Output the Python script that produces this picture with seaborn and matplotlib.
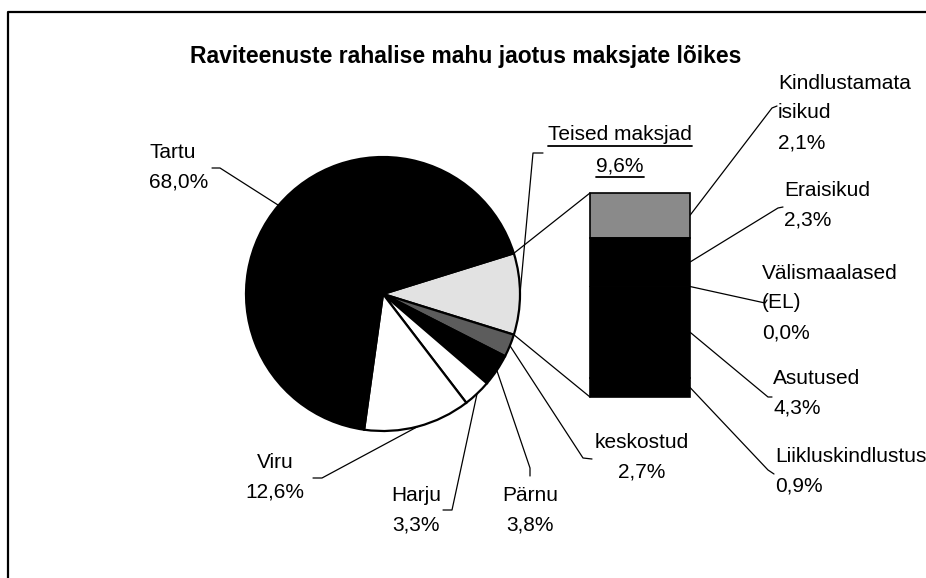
import numpy as np
import matplotlib.pyplot as plt
import seaborn as sns

# --- Teema ja font ---
sns.set_theme(style="white")
plt.rcParams['font.family'] = ['Liberation Sans', 'DejaVu Sans']
plt.rcParams['text.color'] = 'black'

# --- Andmed ---
TITLE = 'Raviteenuste rahalise mahu jaotus maksjate lõikes'
pie_labels = ['Teised maksjad', 'keskostud', 'Pärnu', 'Harju', 'Viru', 'Tartu']
pie_values = [9.6, 2.7, 3.8, 3.3, 12.6, 68.0]
pie_colors = ['#e2e2e2', '#5c5c5c', 'black', 'white', 'white', 'black']

bar_labels = ['Kindlustamata\nisikud', 'Eraisikud', 'Välismaalased\n(EL)', 'Asutused', 'Liikluskindlustus']
bar_values = [2.1, 2.3, 0.0, 4.3, 0.9]
bar_colors = ['#8a8a8a', 'black', 'black', 'black', 'black']

# --- Paigutus (pikslites, y alla) ---
W, H = 926, 578
PIE_CX, PIE_CY, PIE_R = 383, 294, 137
BAR_X0, BAR_X1, BAR_Y0, BAR_Y1 = 590, 690, 193, 397
FS = 15
LS = 1.72

pie_text_pos = [(620, 150, 'center'), (642, 457, 'center'), (530, 510, 'center'),
                (416, 510, 'center'), (275, 477, 'center'), (149, 167, 'left')]
pie_elbows = [[(533, 153), (543, 153)], [(583, 458), (592, 459)], [(530, 468), (530, 476)],
              [(452, 510), (443, 510)], [(322, 478), (313, 478)], [(220, 168), (212, 168)]]
bar_text_pos = [(778, 113), (784, 205), (762, 303), (773, 393), (775, 471)]
bar_elbows = [[(772, 108), (777, 106)], [(778, 208), (783, 207)], [(765, 303), (767, 300)],
              [(768, 397), (772, 397)], [(768, 470), (774, 474)]]


def fmt(label, value):
    return f"{label}\n{value:.1f}%".replace('.', ',')


fig = plt.figure(figsize=(W / 100, H / 100), dpi=100)
ax = fig.add_axes([0, 0, 1, 1])
ax.set_xlim(0, W)
ax.set_ylim(H, 0)
ax.axis('off')

ax_pie = fig.add_axes([(PIE_CX - PIE_R) / W, (H - PIE_CY - PIE_R) / H, 2 * PIE_R / W, 2 * PIE_R / H])
ax_pie.patch.set_alpha(0)
ax_bar = fig.add_axes([BAR_X0 / W, (H - BAR_Y1) / H, (BAR_X1 - BAR_X0) / W, (BAR_Y1 - BAR_Y0) / H])
ax_bar.patch.set_alpha(0)

# raam
ax.plot([8, 8, W], [H, 12, 12], color='black', lw=1.6)

# --- Pirukas ---
total = sum(pie_values)
start = pie_values[0] / total * 360 / 2
ax_pie.pie(pie_values, colors=pie_colors, startangle=start, counterclock=False, radius=1,
           wedgeprops=dict(edgecolor='black', linewidth=1.6, clip_on=False))
ax_pie.set_xlim(-1, 1)
ax_pie.set_ylim(-1, 1)

cum = np.concatenate([[0], np.cumsum(pie_values)])
mid_angles = np.radians(start - 360 * (cum[:-1] + np.array(pie_values) / 2) / total)


def pie_point(angle):
    return PIE_CX + PIE_R * np.cos(angle), PIE_CY - PIE_R * np.sin(angle)


for lab, val, ang, (tx, ty, ha), elbow in zip(pie_labels, pie_values, mid_angles, pie_text_pos, pie_elbows):
    px, py = pie_point(ang)
    xs = [px] + [p[0] for p in elbow]
    ys = [py] + [p[1] for p in elbow]
    ax.plot(xs, ys, color='black', lw=0.9)
    if lab == 'Teised maksjad':
        # allajoonitud silt eraldi ridadena
        fig.canvas.draw()
        rend = fig.canvas.get_renderer()
        for j, line in enumerate(fmt(lab, val).split('\n')):
            t = ax.text(tx, ty - 15 + 31 * j, line, ha='center', va='center', fontsize=FS)
            bb = t.get_window_extent(rend)
            (x0, y0), (x1, y1) = ax.transData.inverted().transform([[bb.x0, bb.y0], [bb.x1, bb.y1]])
            ax.plot([x0, x1], [y0 + 1, y0 + 1], color='black', lw=1.3)
    else:
        ax.text(tx, ty, fmt(lab, val), ha=ha, va='center', multialignment=ha,
                fontsize=FS, linespacing=LS)

# --- Tulp ---
bar_total = sum(bar_values)
tops = bar_total - np.concatenate([[0], np.cumsum(bar_values)[:-1]])
for v, top, c in zip(bar_values, tops, bar_colors):
    ax_bar.bar(0, v, bottom=top - v, width=1, color=c, edgecolor='black', linewidth=1.2, clip_on=False)
ax_bar.set_xlim(-0.5, 0.5)
ax_bar.set_ylim(0, bar_total)
ax_bar.axis('off')

for lab, v, top, (tx, ty), elbow in zip(bar_labels, bar_values, tops, bar_text_pos, bar_elbows):
    bx, by = ax.transData.inverted().transform(ax_bar.transData.transform((0.5, top - v / 2)))
    ax.plot([bx] + [p[0] for p in elbow], [by] + [p[1] for p in elbow], color='black', lw=0.9)
    ax.text(tx, ty, fmt(lab, v), ha='left', va='center', fontsize=FS, linespacing=LS)

# ühendusjooned piruka ja tulba vahel
for ang, yb in [(np.radians(start), bar_total), (np.radians(-start), 0)]:
    px, py = pie_point(ang)
    bx, by = ax.transData.inverted().transform(ax_bar.transData.transform((-0.5, yb)))
    ax.plot([px, bx], [py, by], color='black', lw=0.9)

ax.text(466, 56, TITLE, ha='center', va='center', fontsize=16.5, fontweight='bold')

fig.savefig('out.png', dpi=100)
